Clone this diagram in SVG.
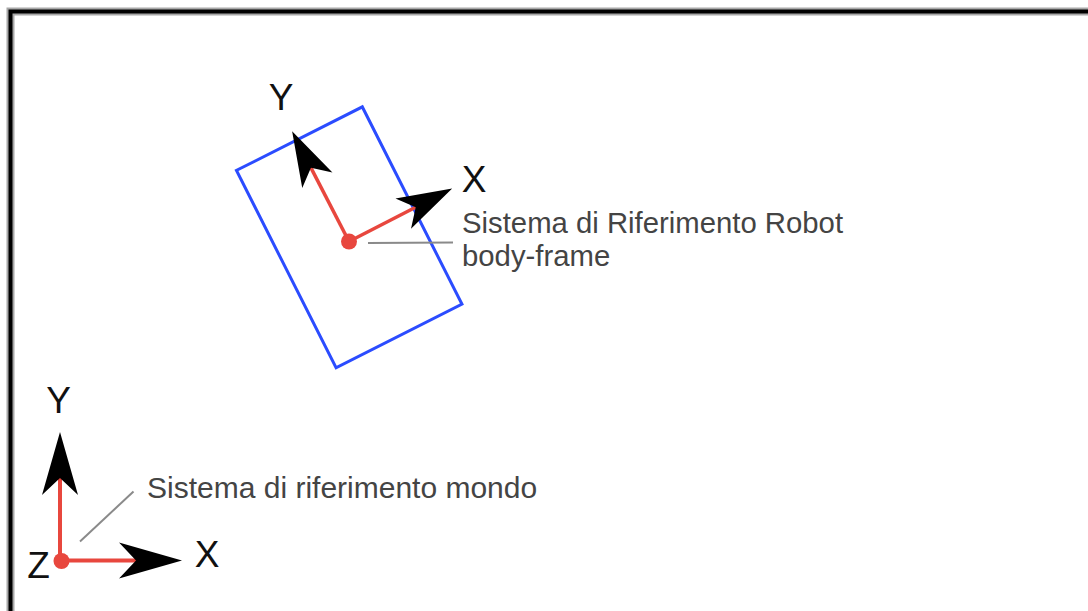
<svg xmlns="http://www.w3.org/2000/svg" width="1088" height="611" viewBox="0 0 1088 611">
  <defs>
    <style>
      .axis { stroke: #e8473e; fill: none; stroke-linecap: butt; }
      .head { fill: #000; stroke: none; }
      .dot { fill: #e8473e; }
      .leader { stroke: #8a8a8a; stroke-width: 2; fill: none; }
      .axlbl { font-family: "Liberation Sans", Arial, sans-serif; font-size: 37px; fill: #111; text-anchor: middle; }
      .lbl { font-family: "Liberation Sans", Arial, sans-serif; font-size: 29.3px; fill: #444; }
    </style>
    <path id="headR" d="M0,0 L-55,-17 L-41,0 L-55,17 Z"/>
    <path id="headW" d="M0,0 L-63,-18 L-46,0 L-63,18 Z"/>
  </defs>
  <rect width="1088" height="611" fill="#fff"/>
  <g id="frame">
    <rect x="10.5" y="11.5" width="1100" height="640" fill="none" stroke="#a8a8a8" stroke-width="8"/>
    <rect x="10.5" y="11.5" width="1100" height="640" fill="none" stroke="#000" stroke-width="4"/>
  </g>
  <g id="robot-body">
    <rect x="-70.5" y="-110.5" width="141" height="221" fill="none" stroke="#2b4cff" stroke-width="3" transform="translate(349.2,237.3) rotate(-26.8)"/>
  </g>
  <g id="connectors">
    <g id="robot-x-axis" transform="translate(349,241.5) rotate(-27.2)">
      <line class="axis" x1="0" y1="0" x2="76" y2="0" stroke-width="3.5"/>
      <use href="#headR" class="head" x="116" y="0"/>
    </g>
    <g id="robot-y-axis" transform="translate(349,241.5) rotate(-117.3)">
      <line class="axis" x1="0" y1="0" x2="84" y2="0" stroke-width="3.5"/>
      <use href="#headR" class="head" x="124" y="0"/>
    </g>
    <g id="world-x-axis" transform="translate(61,560.5)">
      <line class="axis" x1="0" y1="0" x2="76" y2="0" stroke-width="4"/>
      <use href="#headW" class="head" x="121" y="0"/>
    </g>
    <g id="world-y-axis" transform="translate(60,560.5) rotate(-90)">
      <line class="axis" x1="0" y1="0" x2="84" y2="0" stroke-width="4"/>
      <use href="#headW" class="head" x="128.5" y="0"/>
    </g>
    <line id="robot-leader" class="leader" x1="368" y1="243" x2="453" y2="242.5"/>
    <line id="world-leader" class="leader" x1="80" y1="541.5" x2="133.5" y2="491.5"/>
  </g>
  <g id="robot-origin">
    <circle class="dot" cx="349" cy="241.5" r="8"/>
  </g>
  <g id="world-origin">
    <circle class="dot" cx="61.5" cy="561" r="8"/>
  </g>
  <g id="labels">
    <text class="axlbl" x="281" y="110">Y</text>
    <text class="axlbl" x="474" y="192">X</text>
    <text class="axlbl" x="58.5" y="413">Y</text>
    <text class="axlbl" x="207" y="567">X</text>
    <text class="axlbl" x="38.5" y="578">Z</text>
  </g>
  <g id="robot-label">
    <text class="lbl" x="462" y="233">Sistema di Riferimento Robot</text>
    <text class="lbl" x="462" y="266">body-frame</text>
  </g>
  <g id="world-label">
    <text class="lbl" x="147" y="498" style="font-size:30px">Sistema di riferimento mondo</text>
  </g>
</svg>
